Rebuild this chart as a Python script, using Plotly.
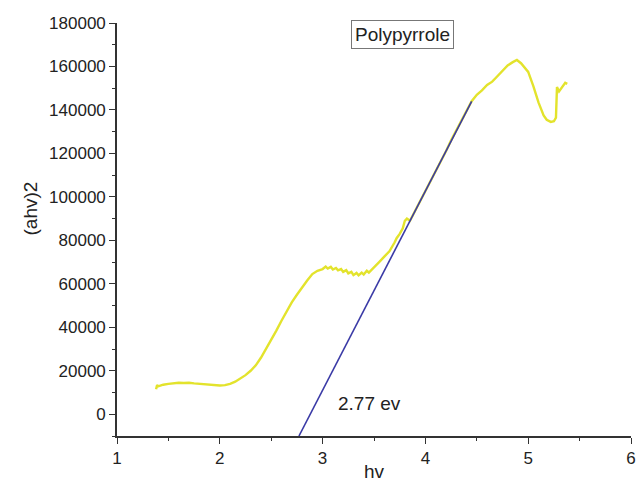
import plotly.graph_objects as go

# Measured curve (hv, (ahv)^2)
hv = [1.38, 1.39, 1.40, 1.45, 1.50, 1.55, 1.60, 1.65, 1.70, 1.75, 1.80, 1.85, 1.90, 1.95,
      2.00, 2.05, 2.10, 2.15, 2.20, 2.25, 2.30, 2.35, 2.40, 2.45, 2.50, 2.55, 2.60, 2.65,
      2.70, 2.75, 2.80, 2.85, 2.90, 2.95, 3.00, 3.03, 3.05, 3.08, 3.10, 3.13, 3.15, 3.18,
      3.20, 3.23, 3.25, 3.28, 3.30, 3.33, 3.35, 3.38, 3.40, 3.43, 3.45, 3.48, 3.50, 3.55,
      3.60, 3.65, 3.70, 3.72, 3.75, 3.78, 3.80, 3.82, 3.85, 3.90,
      3.95, 4.00, 4.05, 4.10, 4.15, 4.20, 4.25, 4.30, 4.35, 4.40, 4.45, 4.50, 4.55, 4.60,
      4.65, 4.70, 4.75, 4.80, 4.85, 4.89, 4.93, 4.97, 5.00, 5.05, 5.10, 5.15, 5.18, 5.22,
      5.25, 5.27, 5.28, 5.30, 5.33, 5.36, 5.38]
ahv2 = [11500, 13500, 12800, 13600, 14000, 14300, 14500, 14400, 14500, 14200, 14000, 13800, 13600, 13300,
        13200, 13400, 14000, 15000, 16500, 18000, 20000, 22500, 26000, 30000, 34000, 38500, 43000, 47500,
        51500, 55000, 58500, 61500, 64500, 66000, 66800, 67900, 67000, 67800, 66600, 67300, 66200, 66800,
        65500, 66300, 64800, 65500, 64000, 65000, 63900, 65200, 64300, 66000, 65200, 66500, 67500, 70000,
        72500, 75000, 79000, 81000, 83000, 85500, 89000, 90000, 89000, 93500,
        98000, 102500, 107500, 112000, 116500, 121000, 126000, 130500, 135000, 139500, 144000, 147000, 149000, 151500,
        153000, 155500, 158000, 160500, 162000, 163000, 161500, 159000, 157500, 151000, 143500, 137500, 135500, 134500,
        134800, 136500, 150500, 148500, 150500, 152500, 152000]

# Tangent line (band gap extrapolation)
fit_x = [2.77, 4.45]
fit_y = [-10000, 143900]

x_ticks = [1, 2, 3, 4, 5, 6]
y_ticks = [0, 20000, 40000, 60000, 80000, 100000, 120000, 140000, 160000, 180000]

font = "Arial, Liberation Sans, sans-serif"
ink = "#222222"

fig = go.Figure()
fig.add_trace(go.Scatter(x=hv, y=ahv2, mode="lines",
                         line=dict(color="#e3e32c", width=2.4), showlegend=False))
fig.add_trace(go.Scatter(x=fit_x, y=fit_y, mode="lines",
                         line=dict(color="#3a3aa6", width=1.6), showlegend=False))

axis_common = dict(showgrid=False, zeroline=False, showline=True, linecolor="#333333",
                   linewidth=1.6, ticks="outside", ticklen=6, tickwidth=1.4, tickcolor="#333333",
                   tickfont=dict(family=font, size=17, color=ink), mirror=False, automargin=False)

fig.update_xaxes(range=[1, 6], tickvals=x_ticks, ticktext=[str(v) for v in x_ticks],
                 minor=dict(dtick=0.5, ticks="outside", ticklen=3, tickwidth=1.2, tickcolor="#333333"),
                 **axis_common)
fig.update_yaxes(range=[-10000, 180000], tickvals=y_ticks, ticktext=[str(v) for v in y_ticks],
                 minor=dict(dtick=10000, tick0=0, ticks="outside", ticklen=3, tickwidth=1.2, tickcolor="#333333"),
                 **axis_common)

fig.update_layout(
    width=637, height=487,
    margin=dict(l=117, r=6, t=23, b=51),
    paper_bgcolor="white", plot_bgcolor="white",
    font=dict(family=font, color=ink),
    annotations=[
        dict(text="Polypyrrole", x=3.78, y=174500, xref="x", yref="y", showarrow=False,
             font=dict(size=19, family=font, color=ink), bordercolor="#777777", borderwidth=1,
             borderpad=3, bgcolor="white"),
        dict(text="2.77 ev", x=3.46, y=5000, xref="x", yref="y", showarrow=False,
             font=dict(size=19, family=font, color=ink)),
        dict(text="hv", x=0.5, y=-0.085, xref="paper", yref="paper", showarrow=False,
             xanchor="center", yanchor="middle", font=dict(size=19, family=font, color=ink)),
        dict(text="(ahv)2", x=-0.168, y=0.55, xref="paper", yref="paper", showarrow=False,
             textangle=-90, xanchor="center", yanchor="middle", font=dict(size=19, family=font, color=ink)),
    ],
)

fig.write_html("out.html")
